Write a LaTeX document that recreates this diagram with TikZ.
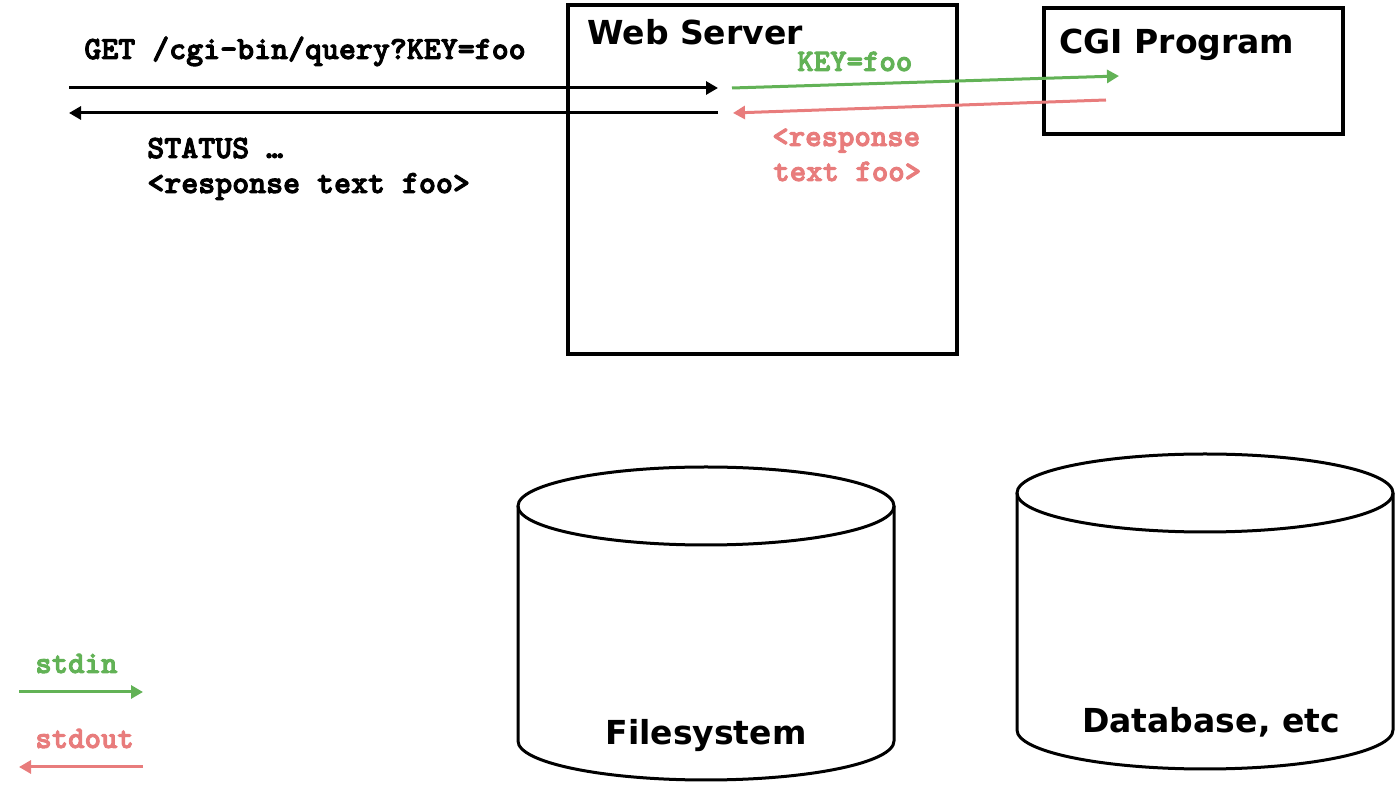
\documentclass[tikz,border=0pt]{standalone}
\usepackage{fontspec}
\newfontfamily\headfont{DejaVu Sans}
\newfontfamily\codefont{lmmonolt10-bold.otf}[FakeBold=3]
\usetikzlibrary{arrows.meta}
\definecolor{stdingreen}{RGB}{98,178,86}
\definecolor{stdoutred}{RGB}{232,124,124}
\begin{document}
\begin{tikzpicture}[
    boxline/.style={line width=0.07cm},
    drumline/.style={line width=0.06cm},
    flow/.style={line width=0.06cm, -{Triangle[length=0.24cm, width=0.26cm]}},
    headtext/.style={font=\headfont\bfseries\fontsize{18.8}{22}\selectfont, inner sep=0pt, anchor=base west},
    codetext/.style={font=\codefont\fontsize{18.4}{21}\selectfont, inner sep=0pt, anchor=base west},
    pipetext/.style={font=\codefont\fontsize{17.8}{20}\selectfont, inner sep=0pt, anchor=base west}]
                        \useasboundingbox (0.000000,0.000000) rectangle (27.900000,15.700000);
                        {

                        % Drawing box Web Server
                        \draw [boxline] (11.360000,15.600000) rectangle (19.140000,8.620000);%
                        \node [headtext] (webserver) at (11.740000,14.800000) {Web Server};%

                        % Drawing box CGI Program
                        \draw [boxline] (20.880000,15.540000) rectangle (26.860000,13.020000);%
                        \node [headtext] (cgiprogram) at (21.180000,14.620000) {CGI Program};%

                        % Marking request and response ends
                        \coordinate (clientout) at (1.380000,13.940000);%
                        \coordinate (serverin) at (14.360000,13.940000);%
                        \coordinate (serverout) at (14.360000,13.440000);%
                        \coordinate (clientin) at (1.380000,13.440000);%

                        % Drawing line client -> server, server -> client
                        \draw [flow] (clientout) -- (serverin);%
                        \draw [flow] (serverout) -- (clientin);%
                        \node [codetext] (request) at (1.680000,14.520000) {GET /cgi-bin/query?KEY=foo};%
                        \node [codetext] (status) at (2.940000,12.540000) {STATUS \ldots};%
                        \node [codetext] (response) at (2.940000,11.840000) {<response text foo>};%

                        % Marking stdin and stdout ends
                        \coordinate (stdinfrom) at (14.640000,13.940000);%
                        \coordinate (stdinto) at (22.380000,14.180000);%
                        \coordinate (stdoutfrom) at (22.120000,13.700000);%
                        \coordinate (stdoutto) at (14.660000,13.440000);%

                        % Drawing line server -> CGI, CGI -> server
                        \draw [flow, stdingreen] (stdinfrom) -- (stdinto);%
                        \draw [flow, stdoutred] (stdoutfrom) -- (stdoutto);%
                        \node [pipetext, stdingreen] (keyvalue) at (15.940000,14.280000) {KEY=foo};%
                        \node [pipetext, stdoutred] (cgiresponse) at (15.440000,12.780000) {<response};%
                        \node [pipetext, stdoutred] (cgitext) at (15.460000,12.080000) {text foo>};%

                        % Drawing cylinder Filesystem
                        \draw [drumline] (10.360000,5.580000) -- (10.360000,0.880000)
                            arc [start angle=180, end angle=360, x radius=3.760000, y radius=0.780000]
                            -- (17.880000,5.580000);%
                        \draw [drumline] (14.120000,5.580000) ellipse [x radius=3.760000, y radius=0.780000];%
                        \node [headtext, anchor=base] (filesystem) at (14.120000,0.800000) {Filesystem};%

                        % Drawing cylinder Database
                        \draw [drumline] (20.340000,5.840000) -- (20.340000,1.100000)
                            arc [start angle=180, end angle=360, x radius=3.760000, y radius=0.780000]
                            -- (27.860000,5.840000);%
                        \draw [drumline] (24.100000,5.840000) ellipse [x radius=3.760000, y radius=0.780000];%
                        \node [headtext, anchor=base] (database) at (24.220000,1.040000) {Database, etc};%

                        % Drawing legend stdin, stdout
                        \coordinate (legendinfrom) at (0.380000,1.860000);%
                        \coordinate (legendinto) at (2.860000,1.860000);%
                        \coordinate (legendoutfrom) at (2.860000,0.360000);%
                        \coordinate (legendoutto) at (0.380000,0.360000);%
                        \draw [flow, stdingreen] (legendinfrom) -- (legendinto);%
                        \draw [flow, stdoutred] (legendoutfrom) -- (legendoutto);%
                        \node [pipetext, stdingreen] (stdin) at (0.700000,2.240000) {stdin};%
                        \node [pipetext, stdoutred] (stdout) at (0.700000,0.740000) {stdout};%
                        }
\end{tikzpicture}
\end{document}
